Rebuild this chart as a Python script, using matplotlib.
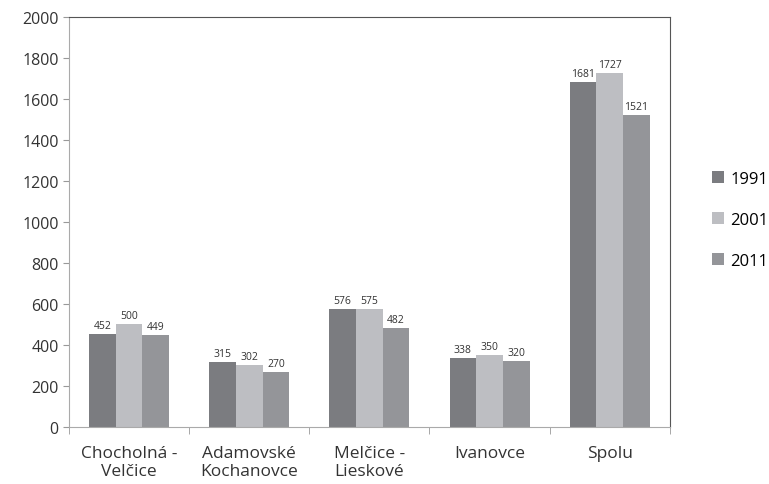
import matplotlib.pyplot as plt
import numpy as np

categories = ["Chocholná -\nVelčice", "Adamovské\nKochanovce", "Melčice -\nLieskové", "Ivanovce", "Spolu"]
years = ["1991", "2001", "2011"]
v1991 = [452, 315, 576, 338, 1681]
v2001 = [500, 302, 575, 350, 1727]
v2011 = [449, 270, 482, 320, 1521]
colors = ["#7b7c80", "#bdbec2", "#949599"]

plt.rcParams['font.family'] = ['Open Sans', 'DejaVu Sans']

fig = plt.figure(figsize=(7.69, 4.85), dpi=100)
ax = fig.add_axes([0.0897, 0.1175, 0.7813, 0.8455])

x = np.arange(len(categories))
w = 0.222
series = [v1991, v2001, v2011]
for i, vals in enumerate(series):
    pos = x + (i - 1) * w
    ax.bar(pos, vals, width=w, color=colors[i], label=years[i])
    for p, v in zip(pos, vals):
        ax.text(p, v + 15, str(v), ha='center', va='bottom', fontsize=7.5, color='#333333')

ax.set_xlim(-0.5, len(categories) - 0.5)
ax.set_ylim(0, 2000)
ax.set_yticks(range(0, 2001, 200))
ax.tick_params(axis='y', labelsize=11.5, colors='#999999', labelcolor='#333333', length=4, direction='out')
ax.set_xticks(x)
ax.set_xticklabels(categories, fontsize=12.5, color='#333333', linespacing=1.15)
ax.tick_params(axis='x', length=0, pad=13)
ax.set_xticks(np.arange(-0.5, len(categories)), minor=True)
ax.tick_params(axis='x', which='minor', length=5, color='#999999')

for s in ['left', 'bottom']:
    ax.spines[s].set_color('#aaaaaa')
for s in ['top', 'right']:
    ax.spines[s].set_color('#555555')
    ax.spines[s].set_linewidth(0.8)

leg = ax.legend(loc='center left', bbox_to_anchor=(1.045, 0.505), frameon=False,
                fontsize=12, handlelength=0.7, handleheight=0.7, labelspacing=1.5,
                handletextpad=0.4)

fig.savefig("out.png")
